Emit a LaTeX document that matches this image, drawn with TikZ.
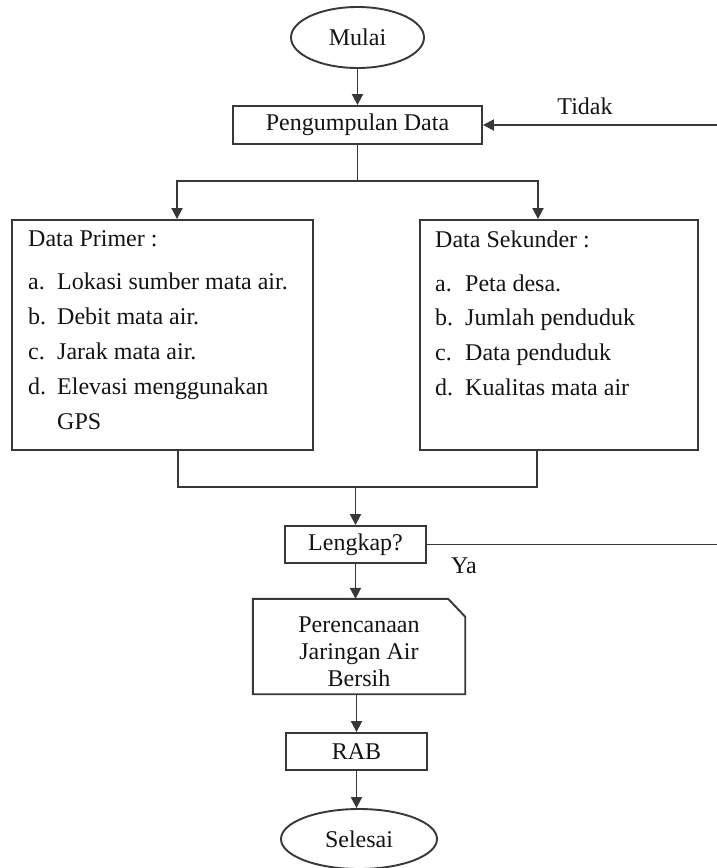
\documentclass[tikz,border=0pt]{standalone}
\usepackage{fontspec}
\setmainfont{Liberation Serif}
\usetikzlibrary{arrows.meta,shapes.geometric}
\begin{document}
\begin{tikzpicture}[x=1pt,y=-1pt,
  every node/.style={font=\fontsize{24}{28}\selectfont, text=black!92},
  ln/.style={line width=1.9pt, draw=black!78},
  arr/.style={ln, -{Triangle[width=11pt,length=11pt]}},
  box/.style={ln, rectangle, inner sep=0pt},
  oval/.style={ln, ellipse, inner sep=0pt},
  txt/.style={inner sep=0pt, anchor=base west}]
\useasboundingbox (0,0) rectangle (717,868);
\fill[white] (0,0) rectangle (717,868);

% main nodes
\node[oval, minimum width=133pt, minimum height=61pt] (mulai) at (357.5,37.5) {Mulai};
\node[box, minimum width=249pt, minimum height=38pt] (peng) at (357.5,125) {Pengumpulan Data};
\node[box, minimum width=301pt, minimum height=230pt] (prim) at (162.5,335) {};
\node[box, minimum width=278pt, minimum height=230pt] (sek) at (559,335) {};
\node[box, minimum width=141pt, minimum height=37pt] (lengk) at (355.5,544.5) {Lengkap?};
\node[minimum width=212pt, minimum height=95pt, inner sep=0pt] (plan) at (359,646.5) {};
\draw[ln] (plan.north west) -- ([xshift=-17pt]plan.north east) -- ([yshift=-18pt]plan.north east) -- (plan.south east) -- (plan.south west) -- cycle;
\node[align=center, font=\fontsize{24}{27}\selectfont, inner sep=0pt] (plantxt) at (359,652) {Perencanaan\\Jaringan Air\\Bersih};
\node[box, minimum width=141pt, minimum height=37pt] (rab) at (356.5,751.5) {RAB};
\node[oval, minimum width=156pt, minimum height=60pt] (sel) at (359,839) {Selesai};

% Data Primer text
\node[txt] (ph) at (28,246) {Data Primer :};
\node[txt] (pa) at (28,289) {a.};
\node[txt] (pat) at (57,289) {Lokasi sumber mata air.};
\node[txt] (pb) at (28,324) {b.};
\node[txt] (pbt) at (57,324) {Debit mata air.};
\node[txt] (pc) at (28,359) {c.};
\node[txt] (pct) at (57,359) {Jarak mata air.};
\node[txt] (pd) at (28,394) {d.};
\node[txt] (pdt) at (57,394) {Elevasi menggunakan};
\node[txt] (pdt2) at (57,429) {GPS};

% Data Sekunder text
\node[txt] (sh) at (435,247) {Data Sekunder :};
\node[txt] (sa) at (435,291) {a.};
\node[txt] (sat) at (465,291) {Peta desa.};
\node[txt] (sb) at (435,325) {b.};
\node[txt] (sbt) at (465,325) {Jumlah penduduk};
\node[txt] (sc) at (435,360) {c.};
\node[txt] (sct) at (465,360) {Data penduduk};
\node[txt] (sd) at (435,395) {d.};
\node[txt] (sdt) at (465,395) {Kualitas mata air};

% labels
\node (tidak) at (585,106) {Tidak};
\node (ya) at (464,566) {Ya};

% connectors
\coordinate (sl) at (177,181);
\coordinate (sr) at (538,181);
\coordinate (ml) at (178,487);
\coordinate (mr) at (537,487);
\coordinate (te) at (717,125);
\coordinate (ye) at (717,543);

\draw[arr] (mulai.south) -- (mulai.south |- peng.north);
\draw[ln] (peng.south) -- (peng.south |- sl);
\draw[arr] (peng.south |- sl) -- (sl) -- (sl |- prim.north);
\draw[arr] (peng.south |- sr) -- (sr) -- (sr |- sek.north);
\draw[ln] (ml |- prim.south) -- (ml) -- (mr) -- (mr |- sek.south);
\draw[arr] (lengk.north |- ml) -- (lengk.north);
\draw[ln] (lengk.east) -- (lengk.east -| ye);
\draw[arr] (te) -- (te -| peng.east);
\draw[arr] (lengk.south) -- (lengk.south |- plan.north);
\draw[arr] (plan.south -| rab.north) -- (rab.north);
\draw[arr] (rab.south) -- (rab.south |- sel.north);
\end{tikzpicture}
\end{document}
